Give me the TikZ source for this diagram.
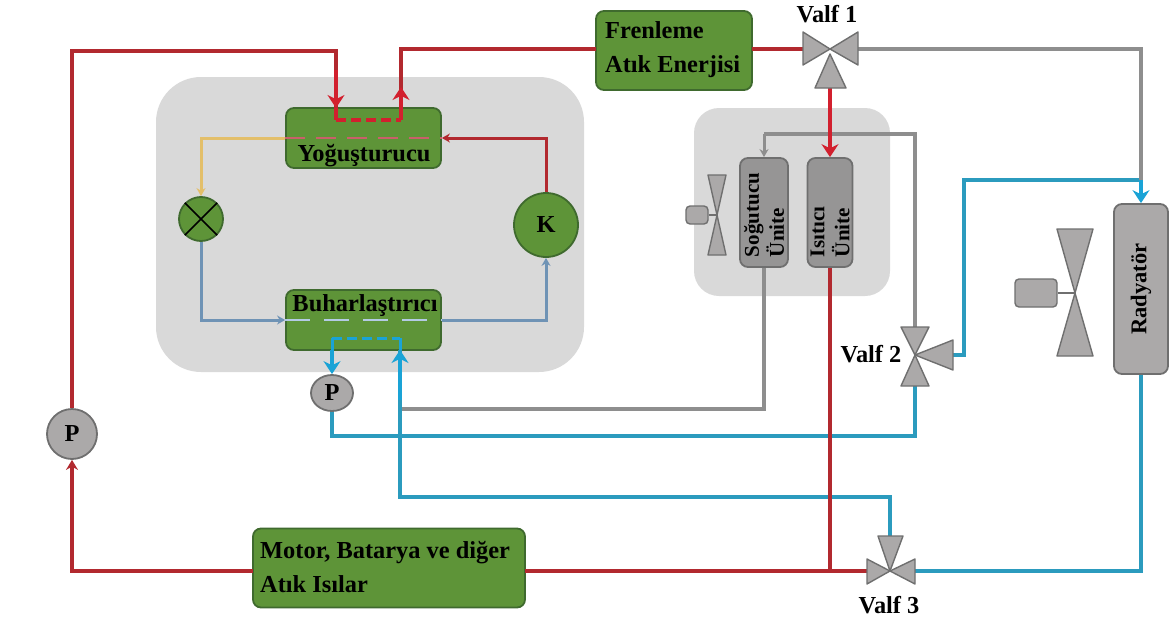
\documentclass[tikz,border=0pt]{standalone}
\usepackage{fontspec}
\setmainfont{Liberation Serif}
\usepackage{tikz}
\usetikzlibrary{shapes.geometric, arrows.meta, positioning, calc, backgrounds}
\definecolor{boxgreen}{HTML}{5E9438}
\definecolor{edgegreen}{HTML}{3F6A2E}
\definecolor{panelgray}{HTML}{D9D9D9}
\definecolor{partgray}{HTML}{ABA9A9}
\definecolor{edgegray}{HTML}{6F6F6F}
\definecolor{linered}{HTML}{B2292F}
\definecolor{brightred}{HTML}{D2202E}
\definecolor{lineblue}{HTML}{2B9BBE}
\definecolor{brightblue}{HTML}{1AA3D6}
\definecolor{linegray}{HTML}{8E8E8E}
\definecolor{lineyellow}{HTML}{E3BF6A}
\definecolor{linesteel}{HTML}{6F93B5}
\definecolor{dashpink}{HTML}{C9606A}
\definecolor{dashblue}{HTML}{B4CBE4}

\begin{document}
\begin{tikzpicture}[
  x=1pt, y=-1pt,
  every node/.style={font=\fontsize{24.4}{34}\selectfont\bfseries, inner sep=0pt},
  panel/.style={rectangle, fill=panelgray, rounded corners=#1},
  greenbox/.style={rectangle, draw=edgegreen, line width=1.8pt, fill=boxgreen, rounded corners=8pt},
  unit/.style={rectangle, draw=edgegray, line width=1.8pt, fill=partgray!88!black, rounded corners=8pt, rotate=90,
    font=\fontsize{21}{25}\selectfont\bfseries, align=left},
  motorbox/.style={rectangle, draw=edgegray, line width=1.4pt, fill=partgray, rounded corners=4pt},
  greencircle/.style={circle, draw=edgegreen, line width=1.8pt, fill=boxgreen},
  pump/.style={ellipse, draw=edgegray, line width=1.8pt, fill=partgray},
  wing/.style={draw=edgegray, line width=1.4pt, fill=partgray, line join=round},
  redpipe/.style={draw=linered, line width=4.6pt},
  redtip/.style={draw=brightred, line width=4.6pt, -{Stealth[length=13pt, width=17pt]}},
  bluepipe/.style={draw=lineblue, line width=4.6pt},
  bluetip/.style={draw=brightblue, line width=4.6pt, -{Stealth[length=13pt, width=17pt]}},
  graypipe/.style={draw=linegray, line width=3.2pt},
  thinpipe/.style={line width=3pt, -{Stealth[length=8pt, width=9pt]}},
]
  \useasboundingbox (0,0) rectangle (1171,624);

  \node[panel=45pt, minimum width=428pt, minimum height=295pt] (mainpanel) at (370,224.5) {};
  \node[panel=25pt, minimum width=196pt, minimum height=188pt] (unitpanel) at (792,202) {};

  \node[greenbox, minimum width=155pt, minimum height=60pt] (yogusturucu) at (363.5,138) {};
  \node[greenbox, minimum width=155pt, minimum height=60pt] (buharlastirici) at (363.5,320) {};
  \node[greenbox, minimum width=156pt, minimum height=79pt] (frenleme) at (674,50.5) {};
  \node[greenbox, minimum width=272pt, minimum height=79pt] (motor) at (389,568) {};

  \node (yogtext) at (364,156) {Yoğuşturucu};
  \node (buhartext) at (365,306) {Buharlaştırıcı};
  \node[anchor=west, align=left] (frentext) at (605,49.5) {Frenleme\\Atık Enerjisi};
  \node[anchor=west, align=left] (motortext) at (260,567) {Motor, Batarya ve diğer\\Atık Isılar};

  \node[greencircle, minimum size=44pt] (genlesme) at (201,219) {};
  \node[greencircle, minimum size=64pt] (kompresor) at (546,225) {K};
  \node[pump, minimum width=50pt, minimum height=50pt] (pumpbig) at (72,434) {P};
  \node[pump, minimum width=42pt, minimum height=36pt] (pumpsmall) at (332,393) {P};
  \draw[black, line width=1.6pt] (genlesme.north west) -- (genlesme.south east);
  \draw[black, line width=1.6pt] (genlesme.north east) -- (genlesme.south west);

  \node[unit, text width=89pt, inner xsep=10pt, inner ysep=0pt, minimum width=109pt, minimum height=48pt] (sogutucu) at (764,212.5) {Soğutucu\\Ünite};
  \node[unit, text width=89pt, inner xsep=10pt, inner ysep=0pt, minimum width=109pt, minimum height=45pt] (isitici) at (830,212.5) {Isıtıcı\\Ünite};
  \node[unit, fill=partgray, font=\fontsize{22.5}{25}\selectfont\bfseries, minimum width=170pt, minimum height=54pt, align=center] (radyator) at (1141,289) {Radyatör};

  \coordinate (frenw) at (596,49);
  \coordinate (frene) at (752,49);
  \coordinate (motorw) at (253,571);
  \coordinate (motore) at (525,571);
  \coordinate (valfbirw) at (803,49);
  \coordinate (valfbire) at (858,49);
  \coordinate (valfbirs) at (830,88);
  \coordinate (valfikin) at (915,327);
  \coordinate (valfikis) at (915,386);
  \coordinate (valfikie) at (953,355);
  \coordinate (valfucn) at (890,536);
  \coordinate (valfucw) at (867,571);
  \coordinate (valfuce) at (915,571);

  \coordinate (kondin) at (336,108);
  \coordinate (kondinb) at (336,120);
  \coordinate (kondout) at (401,108);
  \coordinate (kondoutb) at (401,120);
  \coordinate (buharin) at (400,350);
  \coordinate (buharinb) at (400,338);
  \coordinate (buharout) at (332,350);
  \coordinate (buharoutb) at (332,338);

  \draw[bluepipe] (valfucn) -- (890,497) -| (buharin);
  \draw[bluetip] (400,400) -- (buharin);
  \draw[bluepipe] (pumpsmall.south) |- (915,436) -- (valfikis);
  \draw[bluepipe] (valfikie) -- (964,355) |- (1141,180);
  \draw[bluepipe] (radyator.west) |- (valfuce);
  \draw[graypipe] (valfbire) -| (1141,180);
  \draw[bluetip] (1141,180) -- (radyator.east);
  \draw[bluetip] (buharout) -- (pumpsmall.north);
  \draw[brightblue, line width=3pt] (buharout) -- (buharoutb);
  \draw[brightblue, line width=3pt] (buharinb) -- (buharin);
  \draw[brightblue, line width=3pt, dash pattern=on 10pt off 5pt] (buharoutb) -- (buharinb);

  \draw[graypipe] (sogutucu.west) |- (402,409);
  \draw[graypipe] (valfikin) |- (764,134);
  \draw[draw=linegray, thinpipe] (764,134) -- (sogutucu.east);

  \draw[draw=linered, line width=4.6pt, -{Stealth[length=10pt, width=12pt]}] (motorw) -| (pumpbig.south);
  \draw[redpipe] (pumpbig.north) |- (336,51) -- (kondin);
  \draw[redtip] (336,70) -- (kondin);
  \draw[redpipe] (frenw) -- (401,49) -- (kondout);
  \draw[redtip] (kondout) -- (401,87);
  \draw[brightred, line width=3.4pt] (kondin) -- (kondinb);
  \draw[brightred, line width=3.4pt, dash pattern=on 10pt off 5pt] (kondinb) -- (kondoutb);
  \draw[brightred, line width=3.4pt] (kondoutb) -- (kondout);
  \draw[redpipe] (frene) -- (valfbirw);
  \draw[redtip] (valfbirs) -- (isitici.east);
  \draw[redpipe] (isitici.west) -- (830,571);
  \draw[redpipe] (motore) -- (valfucw);

  \draw[dashpink, line width=2.4pt, dash pattern=on 20pt off 11pt] (yogusturucu.west) -- (yogusturucu.east);
  \draw[dashblue, line width=2.4pt, dash pattern=on 25pt off 14pt] (buharlastirici.west) -- (buharlastirici.east);

  \draw[draw=lineyellow, thinpipe] (yogusturucu.west) -| (genlesme.north);
  \draw[draw=linesteel, thinpipe] (genlesme.south) |- (buharlastirici.west);
  \draw[draw=linesteel, thinpipe] (buharlastirici.east) -| (kompresor.south);
  \draw[draw=linered, thinpipe] (kompresor.north) |- (yogusturucu.east);

  \draw[wing] (830,49) -- (803,32) -- (803,65) -- cycle;
  \draw[wing] (830,49) -- (858,32) -- (858,65) -- cycle;
  \draw[wing] (830,54) -- (815,88) -- (846,88) -- cycle;
  \node (valfbir) at (827,14) {Valf 1};

  \draw[wing] (915,355) -- (901,327) -- (929,327) -- cycle;
  \draw[wing] (915,355) -- (901,386) -- (929,386) -- cycle;
  \draw[wing] (915,355) -- (953,340) -- (953,370) -- cycle;
  \node (valfiki) at (871,354) {Valf 2};

  \draw[wing] (890,571) -- (878,536) -- (903,536) -- cycle;
  \draw[wing] (890,571) -- (867,559) -- (867,584) -- cycle;
  \draw[wing] (890,571) -- (915,559) -- (915,584) -- cycle;
  \node (valfuc) at (889,605) {Valf 3};

  \node[motorbox, minimum width=22pt, minimum height=18pt] (fanmotor) at (697,215) {};
  \coordinate (fanhub) at (717,215);
  \draw[edgegray, line width=1.4pt] (fanmotor.east) -- (fanhub);
  \draw[wing] (fanhub) -- (708,175) -- (726,175) -- cycle;
  \draw[wing] (fanhub) -- (708,255) -- (726,255) -- cycle;

  \node[motorbox, minimum width=42pt, minimum height=28pt] (radmotor) at (1036,293) {};
  \coordinate (radhub) at (1075,293);
  \draw[edgegray, line width=1.4pt] (radmotor.east) -- (radhub);
  \draw[wing] (radhub) -- (1057,229) -- (1093,229) -- cycle;
  \draw[wing] (radhub) -- (1057,356) -- (1093,356) -- cycle;
\end{tikzpicture}
\end{document}
